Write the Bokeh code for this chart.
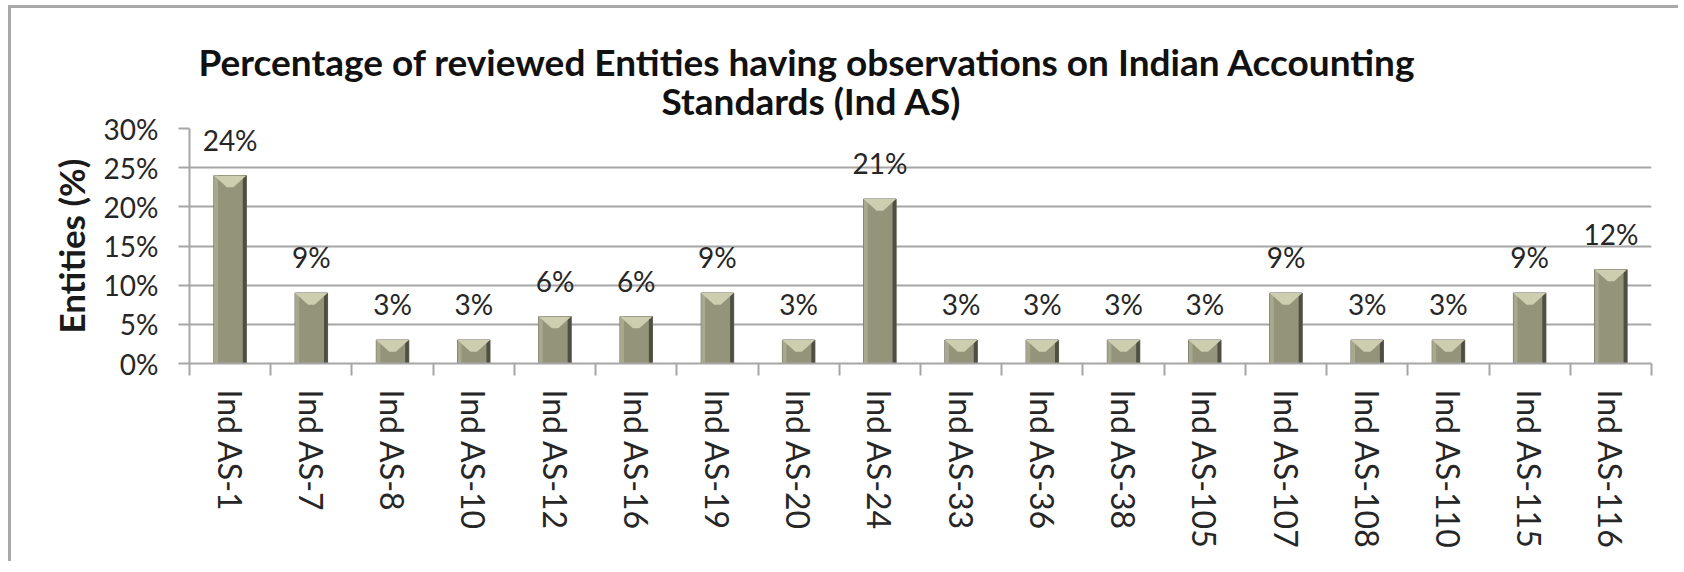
from bokeh.plotting import figure
from bokeh.models import (ColumnDataSource, FixedTicker, CustomJSTickFormatter,
                          LabelSet, Title, Range1d)
from bokeh.core.properties import value
from bokeh.embed import file_html
from bokeh.resources import INLINE

# ---- data ----
categories = ["Ind AS-1", "Ind AS-7", "Ind AS-8", "Ind AS-10", "Ind AS-12", "Ind AS-16",
              "Ind AS-19", "Ind AS-20", "Ind AS-24", "Ind AS-33", "Ind AS-36", "Ind AS-38",
              "Ind AS-105", "Ind AS-107", "Ind AS-108", "Ind AS-110", "Ind AS-115", "Ind AS-116"]
values = [24, 9, 3, 3, 6, 6, 9, 3, 21, 3, 3, 3, 3, 9, 3, 3, 9, 12]
value_labels = ["24%", "9%", "3%", "3%", "6%", "6%", "9%", "3%", "21%", "3%", "3%", "3%",
                "3%", "9%", "3%", "3%", "9%", "12%"]
y_ticks = [0, 5, 10, 15, 20, 25, 30]
y_tick_labels = ["0%", "5%", "10%", "15%", "20%", "25%", "30%"]
title_lines = ["Percentage of reviewed Entities having observations on Indian Accounting",
               "Standards (Ind AS)"]
y_title = "Entities (%)"

FONT = "Lato"
n = len(categories)
centers = [i + 0.5 for i in range(n)]
bw = 0.40

src = ColumnDataSource(dict(x=centers, top=values, lab=value_labels))

p = figure(width=1670, height=556, output_backend="svg", toolbar_location=None,
           x_range=Range1d(0, n), y_range=Range1d(0, 30),
           min_border_left=178, min_border_right=30, min_border_top=120,
           min_border_bottom=201)
p.margin = (5, 0, 0, 8)
p.outline_line_color = None
p.background_fill_color = "white"
p.border_fill_color = "white"
p.styles = {"border-top": "3px solid #a9a9a9", "border-left": "3px solid #a9a9a9"}

# bars: body
p.vbar(x="x", top="top", bottom=0, width=bw, source=src,
       fill_color="#94947a", line_color="#66665a", line_width=1)
# dark right edge
edge_x = [c + bw / 2 - 0.022 for c in centers]
p.vbar(x=edge_x, top=values, bottom=0, width=0.044, fill_color="#4e4e42", line_color=None)
# light left edge
ledge_x = [c - bw / 2 + 0.025 for c in centers]
p.vbar(x=ledge_x, top=values, bottom=0, width=0.05, fill_color="#a8a88e", line_color=None)
# top bevel
dep = 1.5
xs = [[c - bw / 2, c + bw / 2, c + bw * 0.1, c - bw * 0.1] for c in centers]
ys = [[v, v, v - dep, v - dep] for v in values]
p.patches(xs, ys, fill_color="#cdcdb0", line_color=None)

# grid
p.xgrid.grid_line_color = None
p.ygrid.grid_line_color = "#a6a6a6"
p.ygrid.grid_line_width = 2
p.ygrid.ticker = FixedTicker(ticks=y_ticks)

# y axis
ya = p.yaxis[0]
ya.ticker = FixedTicker(ticks=y_ticks)
ya.formatter = CustomJSTickFormatter(args=dict(yt=y_ticks, yl=y_tick_labels),
                                     code="const i = yt.indexOf(Math.round(tick)); return i >= 0 ? yl[i] : '';")
ya.axis_line_color = "#a6a6a6"
ya.axis_line_width = 2
ya.major_tick_line_color = "#a6a6a6"
ya.major_tick_line_width = 2
ya.major_tick_out = 11
ya.major_tick_in = 0
ya.minor_tick_line_color = None
ya.major_label_standoff = 20
ya.major_label_text_font = FONT
ya.major_label_text_font_size = "28px"
ya.major_label_text_color = "#262626"
ya.axis_label = y_title
ya.axis_label_text_font = FONT
ya.axis_label_text_font_style = "bold"
ya.axis_label_text_font_size = "35px"
ya.axis_label_text_color = "#1a1a1a"
ya.axis_label_standoff = 9

# x axis
xa = p.xaxis[0]
xa.ticker = FixedTicker(ticks=centers, minor_ticks=list(range(n + 1)))
xa.formatter = CustomJSTickFormatter(args=dict(cats=categories),
                                     code="const i = Math.floor(tick); return (i >= 0 && i < cats.length) ? cats[i] : '';")
xa.major_label_orientation = "vertical"
xa.axis_line_color = "#a6a6a6"
xa.axis_line_width = 2
xa.major_tick_line_color = None
xa.major_tick_out = 12
xa.major_tick_in = 0
xa.minor_tick_line_color = "#a6a6a6"
xa.minor_tick_line_width = 2
xa.minor_tick_out = 12
xa.minor_tick_in = 0
xa.major_label_standoff = 14
xa.major_label_text_font = FONT
xa.major_label_text_font_size = "32px"
xa.major_label_text_color = "#262626"

# value labels
labels = LabelSet(x="x", y="top", text="lab", source=src, text_align="center",
                  text_baseline="alphabetic", y_offset=25, text_font=value(FONT),
                  text_font_size=value("28px"), text_color="#262626")
p.add_layout(labels)

# title (two lines, closest line added first)
t2 = Title(text=title_lines[1], align="left", offset=472, standoff=12, text_font=FONT,
           text_font_style="bold", text_font_size="37px", text_color="#111111")
t1 = Title(text=title_lines[0], align="left", offset=9, standoff=-28, text_font=FONT,
           text_font_style="bold", text_font_size="37px", text_color="#111111")
p.add_layout(t2, "above")
p.add_layout(t1, "above")

open("out.html", "w").write(file_html(p, INLINE))
